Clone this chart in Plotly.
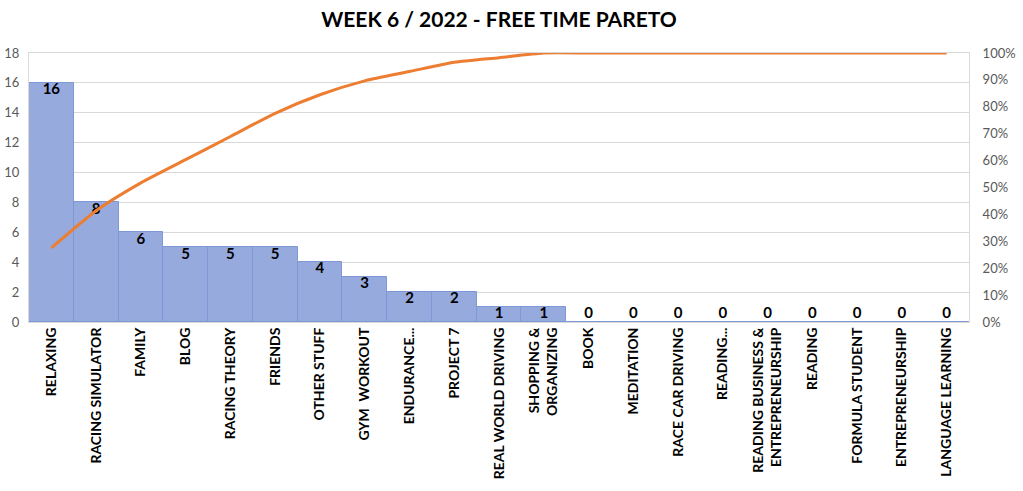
import plotly.graph_objects as go

categories = ["RELAXING", "RACING SIMULATOR", "FAMILY", "BLOG", "RACING THEORY", "FRIENDS",
              "OTHER STUFF", "GYM  WORKOUT", "ENDURANCE...", "PROJECT 7", "REAL WORLD DRIVING",
              "SHOPPING &<br>ORGANIZING", "BOOK", "MEDITATION", "RACE CAR DRIVING", "READING...",
              "READING BUSINESS &<br>ENTREPRENEURSHIP", "READING", "FORMULA STUDENT",
              "ENTREPRENEURSHIP", "LANGUAGE LEARNING"]
hours = [16, 8, 6, 5, 5, 5, 4, 3, 2, 2, 1, 1, 0, 0, 0, 0, 0, 0, 0, 0, 0]
left_ticks = [0, 2, 4, 6, 8, 10, 12, 14, 16, 18]
right_ticks = [0, 0.1, 0.2, 0.3, 0.4, 0.5, 0.6, 0.7, 0.8, 0.9, 1.0]

total = sum(hours)
cum = []
s = 0
for h in hours:
    s += h
    cum.append(s / total)

FONT = "Lato"

fig = go.Figure()
fig.add_trace(go.Bar(
    x=categories, y=hours,
    marker=dict(color="#97AADD", line=dict(color="#7E97D6", width=1)),
    yaxis="y", showlegend=False, hoverinfo="skip",
))
fig.add_trace(go.Scatter(
    x=categories, y=cum, mode="lines",
    line=dict(color="#ED7D31", width=3, shape="spline", smoothing=0.6),
    yaxis="y2", showlegend=False,
))
fig.add_trace(go.Scatter(
    x=categories, y=hours, mode="text", text=[str(h) for h in hours],
    textposition=["bottom center" if h > 0 else "top center" for h in hours],
    textfont=dict(family=FONT, size=15, color="black", weight="bold"),
    yaxis="y", showlegend=False, cliponaxis=False,
))

fig.update_layout(
    width=1023, height=491,
    margin=dict(l=29, r=54, t=53, b=169),
    paper_bgcolor="white", plot_bgcolor="white",
    bargap=0,
    title=dict(text="<b>WEEK 6 / 2022 - FREE TIME PARETO</b>", x=0.5, xanchor="center",
               xref="paper", yref="container", y=0.959, yanchor="middle",
               font=dict(family=FONT, size=21, color="black")),
    xaxis=dict(range=[-0.5, len(categories) - 0.5],
               tickangle=-90, tickfont=dict(family=FONT, size=14, color="black", weight="bold"),
               showline=True, linecolor="#D9D9D9", mirror=True, ticks="", showgrid=False,
               automargin=False, ticklabelstandoff=-1),
    yaxis=dict(range=[0, 18], tickvals=left_ticks, showgrid=True, gridcolor="#D9D9D9",
               tickfont=dict(family=FONT, size=13, color="#595959"), zeroline=False,
               showline=True, linecolor="#D9D9D9", ticks="", ticklabelstandoff=6,
               automargin=False),
    yaxis2=dict(range=[0, 1], tickvals=right_ticks, tickformat=".0%", overlaying="y",
                side="right", showgrid=False, zeroline=False,
                tickfont=dict(family=FONT, size=13, color="#595959"),
                showline=True, linecolor="#D9D9D9", ticks="", ticklabelstandoff=10,
                automargin=False),
)
fig.write_html("out.html", config={"displayModeBar": False},
               post_script="document.body.style.margin='0';document.body.style.overflow='hidden';")
